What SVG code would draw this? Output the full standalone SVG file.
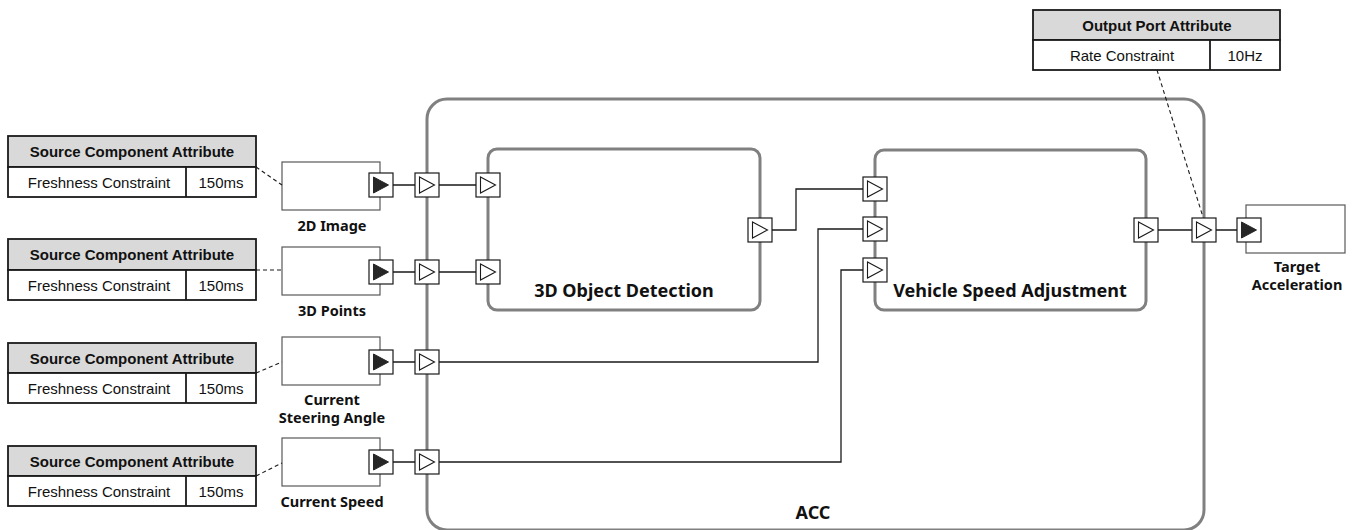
<svg xmlns="http://www.w3.org/2000/svg" xmlns:xlink="http://www.w3.org/1999/xlink" width="1357" height="530" viewBox="0 0 1357 530">
  <style>
    .comp { fill: none; stroke: #808080; stroke-width: 3; }
    .src { fill: #ffffff; stroke: #595959; stroke-width: 1.2; }
    .wire { fill: none; stroke: #1a1a1a; stroke-width: 1.3; }
    .dash { fill: none; stroke: #1a1a1a; stroke-width: 1.1; stroke-dasharray: 4 3; }
    .tbl { fill: #ffffff; stroke: #1a1a1a; stroke-width: 1.8; }
    .tblh { fill: #d9d9d9; stroke: #1a1a1a; stroke-width: 1.8; }
    .th { font-family: "Liberation Sans", Arial, sans-serif; font-size: 15px; font-weight: bold; fill: #111; text-anchor: middle; }
    .td { font-family: "Liberation Sans", Arial, sans-serif; font-size: 15px; fill: #111; text-anchor: middle; }
    .lbl { font-family: "Noto Sans", "Open Sans", sans-serif; font-size: 14.5px; font-weight: bold; fill: #111; text-anchor: middle; }
    .big { font-family: "Noto Sans", "Open Sans", sans-serif; font-size: 18px; font-weight: bold; fill: #111; text-anchor: middle; }
  </style>
  <defs>
    <!-- flow port pins, centred on the origin -->
    <g id="pinIn">
      <rect x="-12" y="-12" width="24" height="24" fill="#ffffff" stroke="#1a1a1a" stroke-width="1.2"/>
      <path d="M-7.5 -8 L7.5 0 L-7.5 8 Z" fill="#ffffff" stroke="#1a1a1a" stroke-width="1.1"/>
    </g>
    <g id="pinOut">
      <rect x="-12" y="-12" width="24" height="24" fill="#ffffff" stroke="#1a1a1a" stroke-width="1.2"/>
      <path d="M-7.5 -8 L7.5 0 L-7.5 8 Z" fill="#262626" stroke="#262626" stroke-width="1"/>
    </g>
  </defs>

  <rect width="1357" height="530" fill="#ffffff"/>

  <!-- ACC container -->
  <g id="acc">
    <rect class="comp" x="427" y="99" width="777" height="431" rx="20" ry="20"/>
    <text class="big" x="813" y="519">ACC</text>
  </g>

  <!-- inner components -->
  <g id="object-detection">
    <rect class="comp" x="488" y="149" width="272" height="161" rx="9" ry="9"/>
    <text class="big" x="624" y="297">3D Object Detection</text>
  </g>
  <g id="speed-adjustment">
    <rect class="comp" x="875" y="150" width="271" height="160" rx="9" ry="9"/>
    <text class="big" x="1010" y="297">Vehicle Speed Adjustment</text>
  </g>

  <!-- source components -->
  <g id="src-2d-image">
    <rect class="src" x="282" y="162" width="98" height="48"/>
    <text class="lbl" x="332" y="231">2D Image</text>
  </g>
  <g id="src-3d-points">
    <rect class="src" x="282" y="247" width="98" height="48"/>
    <text class="lbl" x="332" y="316">3D Points</text>
  </g>
  <g id="src-steering">
    <rect class="src" x="282" y="337" width="98" height="48"/>
    <text class="lbl" x="332" y="405">Current</text>
    <text class="lbl" x="332" y="423">Steering Angle</text>
  </g>
  <g id="src-speed">
    <rect class="src" x="282" y="438" width="98" height="48"/>
    <text class="lbl" x="332" y="507">Current Speed</text>
  </g>
  <g id="sink-target">
    <rect class="src" x="1246" y="205" width="99" height="48"/>
    <text class="lbl" x="1297" y="272">Target</text>
    <text class="lbl" x="1297" y="290">Acceleration</text>
  </g>

  <!-- attribute tables -->
  <g id="attr-2d-image">
    <rect class="tblh" x="8" y="136" width="248" height="31"/>
    <rect class="tbl" x="8" y="167" width="248" height="30"/>
    <line x1="186" y1="167" x2="186" y2="197" stroke="#1a1a1a" stroke-width="1.8"/>
    <text class="th" x="132" y="157">Source Component  Attribute</text>
    <text class="td" x="99" y="187.5">Freshness Constraint</text>
    <text class="td" x="221" y="187.5">150ms</text>
  </g>
  <g id="attr-3d-points">
    <rect class="tblh" x="8" y="239" width="248" height="31"/>
    <rect class="tbl" x="8" y="270" width="248" height="30"/>
    <line x1="186" y1="270" x2="186" y2="300" stroke="#1a1a1a" stroke-width="1.8"/>
    <text class="th" x="132" y="260">Source Component  Attribute</text>
    <text class="td" x="99" y="290.5">Freshness Constraint</text>
    <text class="td" x="221" y="290.5">150ms</text>
  </g>
  <g id="attr-steering">
    <rect class="tblh" x="8" y="343" width="248" height="30"/>
    <rect class="tbl" x="8" y="373" width="248" height="30"/>
    <line x1="186" y1="373" x2="186" y2="403" stroke="#1a1a1a" stroke-width="1.8"/>
    <text class="th" x="132" y="363.5">Source Component  Attribute</text>
    <text class="td" x="99" y="393.5">Freshness Constraint</text>
    <text class="td" x="221" y="393.5">150ms</text>
  </g>
  <g id="attr-speed">
    <rect class="tblh" x="8" y="446" width="248" height="30"/>
    <rect class="tbl" x="8" y="476" width="248" height="30"/>
    <line x1="186" y1="476" x2="186" y2="506" stroke="#1a1a1a" stroke-width="1.8"/>
    <text class="th" x="132" y="466.5">Source Component  Attribute</text>
    <text class="td" x="99" y="496.5">Freshness Constraint</text>
    <text class="td" x="221" y="496.5">150ms</text>
  </g>
  <g id="attr-output">
    <rect class="tblh" x="1033" y="10" width="247" height="30"/>
    <rect class="tbl" x="1033" y="40" width="247" height="30"/>
    <line x1="1210" y1="40" x2="1210" y2="70" stroke="#1a1a1a" stroke-width="1.8"/>
    <text class="th" x="1157" y="30.5">Output  Port Attribute</text>
    <text class="td" x="1122" y="60.5">Rate Constraint</text>
    <text class="td" x="1245" y="60.5">10Hz</text>
  </g>

  <!-- connectors and annotation links -->
  <g id="connectors">
    <path class="dash" d="M256 167 L282 185"/>
    <path class="dash" d="M256 270 L282 270"/>
    <path class="dash" d="M256 373 L282 362"/>
    <path class="dash" d="M256 476 L282 463"/>
    <path class="dash" d="M1157 70 L1203 217"/>

    <path class="wire" d="M393 185 H415 M439 185 H476"/>
    <path class="wire" d="M393 272 H415 M439 272 H476"/>
    <path class="wire" d="M393 362 H415 M439 362 H818 V229 H863"/>
    <path class="wire" d="M393 462 H415 M439 462 H841 V270 H863"/>
    <path class="wire" d="M771 230 H796 V189 H863"/>
    <path class="wire" d="M1158 230 H1192 M1216 230 H1237"/>
  </g>

  <!-- ports -->
  <g id="ports">
    <use xlink:href="#pinOut" x="381" y="185"/>
    <use xlink:href="#pinOut" x="381" y="272"/>
    <use xlink:href="#pinOut" x="381" y="362"/>
    <use xlink:href="#pinOut" x="381" y="462"/>
    <use xlink:href="#pinIn" x="427" y="185"/>
    <use xlink:href="#pinIn" x="427" y="272"/>
    <use xlink:href="#pinIn" x="427" y="362"/>
    <use xlink:href="#pinIn" x="427" y="462"/>
    <use xlink:href="#pinIn" x="488" y="185"/>
    <use xlink:href="#pinIn" x="488" y="272"/>
    <use xlink:href="#pinIn" x="760" y="230"/>
    <use xlink:href="#pinIn" x="875" y="189"/>
    <use xlink:href="#pinIn" x="875" y="229"/>
    <use xlink:href="#pinIn" x="875" y="270"/>
    <use xlink:href="#pinIn" x="1146" y="230"/>
    <use xlink:href="#pinIn" x="1204" y="230"/>
    <use xlink:href="#pinOut" x="1249" y="230"/>
  </g>
</svg>
